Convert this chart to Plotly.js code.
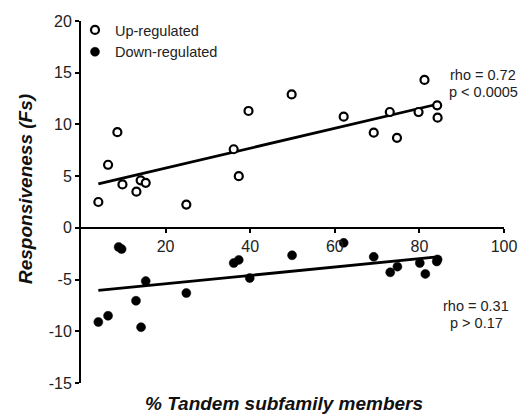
<!DOCTYPE html>
<html>
<head>
<meta charset="utf-8">
<script src="https://cdn.plot.ly/plotly-3.0.1.min.js"></script>
<style>html,body{margin:0;padding:0;background:#fff;}#chart{width:522px;height:415px;}</style>
</head>
<body>
<div id="chart"></div>
<script>
// Data
const upX = [4.1, 6.4, 8.6, 9.8, 13.1, 14.1, 15.3, 24.9, 36.1, 37.3, 39.6, 49.8, 62.1, 69.2, 73.0, 74.7, 79.8, 81.2, 84.2, 84.3];
const upY = [2.5, 6.1, 9.25, 4.2, 3.5, 4.6, 4.35, 2.25, 7.6, 5.0, 11.3, 12.9, 10.75, 9.2, 11.2, 8.7, 11.2, 14.3, 11.85, 10.65];
const downX = [4.1, 6.4, 8.9, 9.6, 13.0, 14.2, 15.3, 24.9, 36.1, 37.3, 39.9, 49.9, 62.1, 69.2, 73.1, 74.8, 80.1, 81.4, 84.1, 84.3];
const downY = [-9.1, -8.5, -1.85, -2.05, -7.05, -9.6, -5.15, -6.3, -3.4, -3.1, -4.85, -2.65, -1.45, -2.8, -4.3, -3.75, -3.4, -4.45, -3.25, -3.05];
const upFitX = [4.1, 84.2];
const upFitY = [4.25, 11.95];
const downFitX = [4.1, 84.2];
const downFitY = [-6.05, -2.8];
const xTickVals = [20, 40, 60, 80, 100];
const yTickVals = [20, 15, 10, 5, 0, -5, -10, -15];
const yTickText = ["20", "15", "10", "5", "0", "-5", "-10", "-15"];
const seriesNames = ["Up-regulated", "Down-regulated"];
const upStats = ["rho = 0.72", "p < 0.0005"];
const downStats = ["rho = 0.31", "p > 0.17"];
const xTitle = "% Tandem subfamily members";
const yTitle = "Responsiveness (Fs)";

const FONT = "Liberation Sans, Arial, Helvetica, sans-serif";

const traces = [
  {x: upFitX, y: upFitY, mode: "lines", line: {color: "#000", width: 2.8}, showlegend: false, hoverinfo: "skip"},
  {x: downFitX, y: downFitY, mode: "lines", line: {color: "#000", width: 2.8}, showlegend: false, hoverinfo: "skip"},
  {x: upX, y: upY, mode: "markers", name: seriesNames[0],
   marker: {symbol: "circle", size: 8, color: "#fff", line: {color: "#000", width: 2.2}}},
  {x: downX, y: downY, mode: "markers", name: seriesNames[1],
   marker: {symbol: "circle", size: 9, color: "#000", line: {color: "#000", width: 0.5}}}
];

const plotTop = 21, plotBottom = 383, plotLeft = 81, plotRight = 504;
const ph = plotBottom - plotTop, pw = plotRight - plotLeft;
const px2paperX = p => (p - plotLeft) / pw;
const px2paperY = p => (plotBottom - p) / ph;

const annFont = {family: FONT, size: 14.5, color: "#222"};
const annotations = [
  {text: upStats[0], x: px2paperX(483), y: px2paperY(75), xref: "paper", yref: "paper", xanchor: "center", yanchor: "middle", showarrow: false, font: annFont},
  {text: upStats[1], x: px2paperX(483), y: px2paperY(92), xref: "paper", yref: "paper", xanchor: "center", yanchor: "middle", showarrow: false, font: annFont},
  {text: downStats[0], x: px2paperX(476), y: px2paperY(306), xref: "paper", yref: "paper", xanchor: "center", yanchor: "middle", showarrow: false, font: annFont},
  {text: downStats[1], x: px2paperX(476), y: px2paperY(323), xref: "paper", yref: "paper", xanchor: "center", yanchor: "middle", showarrow: false, font: annFont},
  {text: "<b><i>" + xTitle + "</i></b>", x: px2paperX(284), y: px2paperY(403), xref: "paper", yref: "paper", xanchor: "center", yanchor: "middle", showarrow: false, font: {family: FONT, size: 19, color: "#111"}},
  {text: "<b><i>" + yTitle + "</i></b>", x: px2paperX(25), y: px2paperY(189), xref: "paper", yref: "paper", xanchor: "center", yanchor: "middle", textangle: -90, showarrow: false, font: {family: FONT, size: 19, color: "#111"}}
];

const layout = {
  width: 522, height: 415,
  margin: {l: plotLeft, r: 522 - plotRight, t: plotTop, b: 415 - plotBottom, pad: 0},
  paper_bgcolor: "#fff", plot_bgcolor: "#fff",
  font: {family: FONT, size: 16, color: "#222"},
  showlegend: true,
  legend: {x: px2paperX(75), y: px2paperY(14), xanchor: "left", yanchor: "top",
           bgcolor: "rgba(0,0,0,0)", borderwidth: 0, font: {family: FONT, size: 14.5, color: "#222"},
           itemwidth: 30, traceorder: "normal"},
  xaxis: {range: [0, 100], anchor: "free", position: 15 / 35, showgrid: false, zeroline: false,
          showline: true, linecolor: "#000", linewidth: 2,
          ticks: "outside", ticklen: 4, tickwidth: 2, tickcolor: "#000",
          tickvals: xTickVals, tickfont: {family: FONT, size: 16, color: "#222"}},
  yaxis: {range: [-15, 20], domain: [0, 1], showgrid: false, zeroline: false,
          showline: true, linecolor: "#000", linewidth: 2,
          ticks: "outside", ticklen: 4, tickwidth: 2, tickcolor: "#000",
          tickvals: yTickVals, ticktext: yTickText, tickfont: {family: FONT, size: 16, color: "#222"}},
  annotations: annotations
};

Plotly.newPlot("chart", traces, layout, {staticPlot: true, displayModeBar: false});
</script>
</body>
</html>
